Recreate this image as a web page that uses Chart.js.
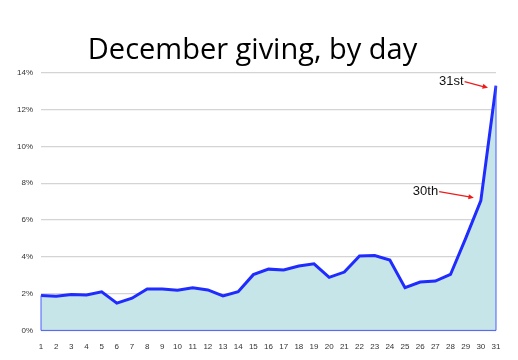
<!DOCTYPE html>
<html lang="en">
<head>
  <meta charset="UTF-8" />
  <title>December giving, by day</title>
  <script src="https://cdn.jsdelivr.net/npm/chart.js"></script>
  <style>
    body { margin: 0; background: #fff; }
    #wrap { width: 518px; height: 360px; }
  </style>
</head>
<body>
  <div id="wrap"><canvas id="chart"></canvas></div>
  <script>
    const days = Array.from({ length: 31 }, (_, i) => String(i + 1));
    const share = [1.9, 1.85, 1.95, 1.92, 2.1, 1.48, 1.75, 2.25, 2.25, 2.18, 2.32, 2.2, 1.87, 2.1, 3.03,
                   3.33, 3.28, 3.5, 3.62, 2.88, 3.17, 4.05, 4.07, 3.82, 2.32, 2.63, 2.68, 3.04, 5.0, 7.05, 13.3];
    const yTicks = [0, 2, 4, 6, 8, 10, 12, 14];
    const notes = [
      { day: "31", text: "31st", dx: -57, dy: -4, ex: -8, ey: 2 },
      { day: "30", text: "30th", dx: -68, dy: -9, ex: -7, ey: -3 }
    ];

    // thin outline around the filled area plus the red call-outs
    const extras = {
      id: "extras",
      afterDatasetsDraw(chart) {
        const { ctx, scales: { x, y } } = chart;
        const x0 = x.getPixelForValue(0), x1 = x.getPixelForValue(days.length - 1);
        const base = y.getPixelForValue(0);
        ctx.save();
        ctx.strokeStyle = "#4a5cff";
        ctx.lineWidth = 1;
        ctx.beginPath();
        ctx.moveTo(x0, y.getPixelForValue(share[0]));
        ctx.lineTo(x0, base);
        ctx.lineTo(x1, base);
        ctx.lineTo(x1, y.getPixelForValue(share[share.length - 1]));
        ctx.stroke();

        ctx.font = "13px 'Liberation Sans', Arial, sans-serif";
        ctx.textBaseline = "middle";
        ctx.textAlign = "left";
        notes.forEach(n => {
          const i = days.indexOf(n.day);
          const px = x.getPixelForValue(i), py = y.getPixelForValue(share[i]);
          const tx = px + n.dx, ty = py + n.dy;
          ctx.fillStyle = "#111";
          ctx.fillText(n.text, tx, ty);
          const w = ctx.measureText(n.text).width;
          const ax = tx + w + 1, ay = ty;
          const bx = px + n.ex, by = py + n.ey;
          ctx.strokeStyle = "#ee1c1c";
          ctx.lineWidth = 1.2;
          ctx.beginPath();
          ctx.moveTo(ax, ay);
          ctx.lineTo(bx - 3, by - 0.5);
          ctx.stroke();
          const ang = Math.atan2(by - ay, bx - ax);
          ctx.fillStyle = "#ee1c1c";
          ctx.beginPath();
          ctx.moveTo(bx, by);
          ctx.lineTo(bx - 6 * Math.cos(ang - 0.45), by - 6 * Math.sin(ang - 0.45));
          ctx.lineTo(bx - 6 * Math.cos(ang + 0.45), by - 6 * Math.sin(ang + 0.45));
          ctx.closePath();
          ctx.fill();
        });
        ctx.restore();
      }
    };

    new Chart(document.getElementById("chart"), {
      type: "line",
      data: {
        labels: days,
        datasets: [{
          data: share,
          borderColor: "#1f2bff",
          borderWidth: 3,
          backgroundColor: "#c6e5e8",
          fill: "origin",
          pointRadius: 0,
          tension: 0
        }]
      },
      options: {
        responsive: true,
        maintainAspectRatio: false,
        animation: false,
        layout: { padding: { left: 9, right: 22, top: 0, bottom: 4 } },
        plugins: {
          legend: { display: false },
          tooltip: { enabled: false },
          title: {
            display: true,
            text: "December giving, by day",
            color: "#000",
            font: { family: "'Open Sans', sans-serif", size: 29, weight: "normal" },
            padding: { top: 33, bottom: 5 }
          }
        },
        scales: {
          x: {
            offset: false,
            grid: { display: false, drawTicks: true },
            border: { display: false },
            ticks: { color: "#333", font: { family: "'Liberation Sans', Arial", size: 8 }, maxRotation: 0, autoSkip: false, padding: 4 }
          },
          y: {
            min: 0, max: 14,
            afterBuildTicks(axis) { axis.ticks = yTicks.map(v => ({ value: v })); },
            grid: { color: "#d4d4d4", lineWidth: 1.2, drawTicks: false },
            border: { display: false },
            ticks: { color: "#333", font: { family: "'Liberation Sans', Arial", size: 8 }, padding: 8, callback: v => v + "%" }
          }
        }
      },
      plugins: [extras]
    });
  </script>
</body>
</html>
